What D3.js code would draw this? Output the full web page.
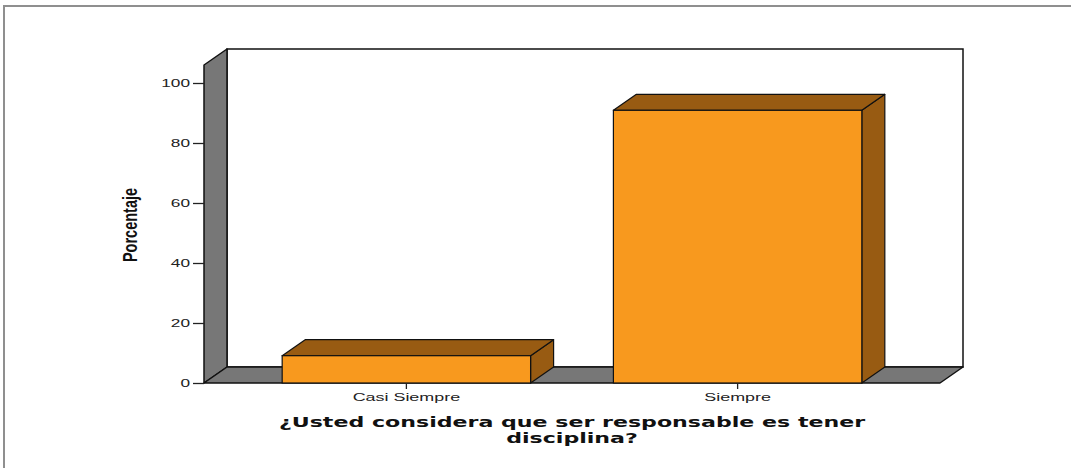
<!doctype html>
<html>
<head>
<meta charset="utf-8">
<style>
body { margin: 0; background: #fff; }
svg { font-family: "Liberation Sans", Arial, sans-serif; }
</style>
<script src="https://d3js.org/d3.v7.min.js"></script>
</head>
<body>
<svg width="1071" height="468"></svg>
<script>
// data
var categories = ["Casi Siempre", "Siempre"];
var percents = [9.1, 90.9];
var yTicks = [0, 20, 40, 60, 80, 100];
var titleLines = ["¿Usted considera que ser responsable es tener", "disciplina?"];
var yLabel = "Porcentaje";

var svg = d3.select("svg");

// 3d depth of the box
var dx = 23, dy = -16;
var stretch = 1.63;   // original picture was stretched sideways

var x = d3.scaleBand()
    .domain(categories)
    .range([204, 940])
    .paddingInner(0.25)
    .paddingOuter(0.236);

var y = d3.scaleLinear()
    .domain([0, 106])
    .range([383, 65]);

var x0 = x.range()[0], x1 = x.range()[1];
var yb = y(0), yt = y(106);

// outer frame
svg.append("rect")
    .attr("x", 4).attr("y", 6)
    .attr("width", 1090).attr("height", 500)
    .attr("fill", "none")
    .attr("stroke", "#8f8f8f")
    .attr("stroke-width", 2);

// back wall
svg.append("rect")
    .attr("x", x0 + dx).attr("y", yt + dy)
    .attr("width", x1 - x0).attr("height", yb - yt)
    .attr("fill", "#fff")
    .attr("stroke", "#111")
    .attr("stroke-width", 1.5);

// left wall
svg.append("polygon")
    .attr("points", [[x0, yb], [x0, yt], [x0 + dx, yt + dy], [x0 + dx, yb + dy]].join(" "))
    .attr("fill", "#777777")
    .attr("stroke", "#111")
    .attr("stroke-width", 1.5)
    .attr("stroke-linejoin", "round");

// floor
svg.append("polygon")
    .attr("points", [[x0, yb], [x1, yb], [x1 + dx, yb + dy], [x0 + dx, yb + dy]].join(" "))
    .attr("fill", "#777777")
    .attr("stroke", "#111")
    .attr("stroke-width", 1.5)
    .attr("stroke-linejoin", "round");

// bars
var bars = svg.selectAll("g.bar")
    .data(categories.map(function(c, i) { return {cat: c, v: percents[i]}; }))
    .enter().append("g").attr("class", "bar");

bars.append("polygon")
    .attr("points", function(d) {
      var a = x(d.cat), b = a + x.bandwidth(), t = y(d.v);
      return [[b, t], [b + dx, t + dy], [b + dx, yb + dy], [b, yb]].join(" ");
    })
    .attr("fill", "#985b12")
    .attr("stroke", "#111")
    .attr("stroke-width", 1.2)
    .attr("stroke-linejoin", "round");

bars.append("polygon")
    .attr("points", function(d) {
      var a = x(d.cat), b = a + x.bandwidth(), t = y(d.v);
      return [[a, t], [a + dx, t + dy], [b + dx, t + dy], [b, t]].join(" ");
    })
    .attr("fill", "#985b12")
    .attr("stroke", "#111")
    .attr("stroke-width", 1.2)
    .attr("stroke-linejoin", "round");

bars.append("rect")
    .attr("x", function(d) { return x(d.cat); })
    .attr("y", function(d) { return y(d.v); })
    .attr("width", x.bandwidth())
    .attr("height", function(d) { return yb - y(d.v); })
    .attr("fill", "#f8991e")
    .attr("stroke", "#111")
    .attr("stroke-width", 1.2);

// y axis
var yAxis = svg.append("g")
    .attr("transform", "translate(" + x0 + ",0)")
    .call(d3.axisLeft(y).tickValues(yTicks).tickSize(11).tickFormat(d3.format("d")));
yAxis.select(".domain").remove();
yAxis.selectAll(".tick line").attr("stroke", "#222").attr("stroke-width", 1.3);
yAxis.selectAll(".tick text")
    .attr("x", null).attr("dy", null)
    .attr("transform", "translate(-14,3.8) scale(" + stretch + ",1)")
    .attr("font-size", 10.6)
    .attr("font-family", "Liberation Sans, Arial, sans-serif")
    .attr("fill", "#222");

// x axis
var xAxis = svg.append("g")
    .attr("transform", "translate(0," + yb + ")")
    .call(d3.axisBottom(x).tickSize(6));
xAxis.select(".domain").remove();
xAxis.selectAll(".tick line").attr("stroke", "#222").attr("stroke-width", 1.3);
xAxis.selectAll(".tick text")
    .attr("y", null).attr("dy", null)
    .attr("transform", "translate(0,17.7) scale(" + stretch + ",1)")
    .attr("font-size", 11)
    .attr("font-family", "Liberation Sans, Arial, sans-serif")
    .attr("fill", "#222");

// y label
svg.append("text")
    .attr("transform", "translate(129.5,225) rotate(-90) scale(1,1.35)")
    .attr("text-anchor", "middle")
    .attr("dy", "0.36em")
    .attr("font-size", 14.5)
    .attr("font-weight", "bold")
    .attr("fill", "#111")
    .text(yLabel);

// title under the axis
var title = svg.append("text")
    .attr("transform", "translate(" + ((x0 + x1) / 2) + ",427) scale(1.58,1)")
    .attr("text-anchor", "middle")
    .attr("font-family", "DejaVu Sans, Verdana, sans-serif")
    .attr("font-size", 14)
    .attr("font-weight", "bold")
    .attr("fill", "#111");
title.selectAll("tspan")
    .data(titleLines)
    .enter().append("tspan")
    .attr("x", 0)
    .attr("dy", function(d, i) { return i ? 16 : 0; })
    .text(function(d) { return d; });
</script>
</body>
</html>
